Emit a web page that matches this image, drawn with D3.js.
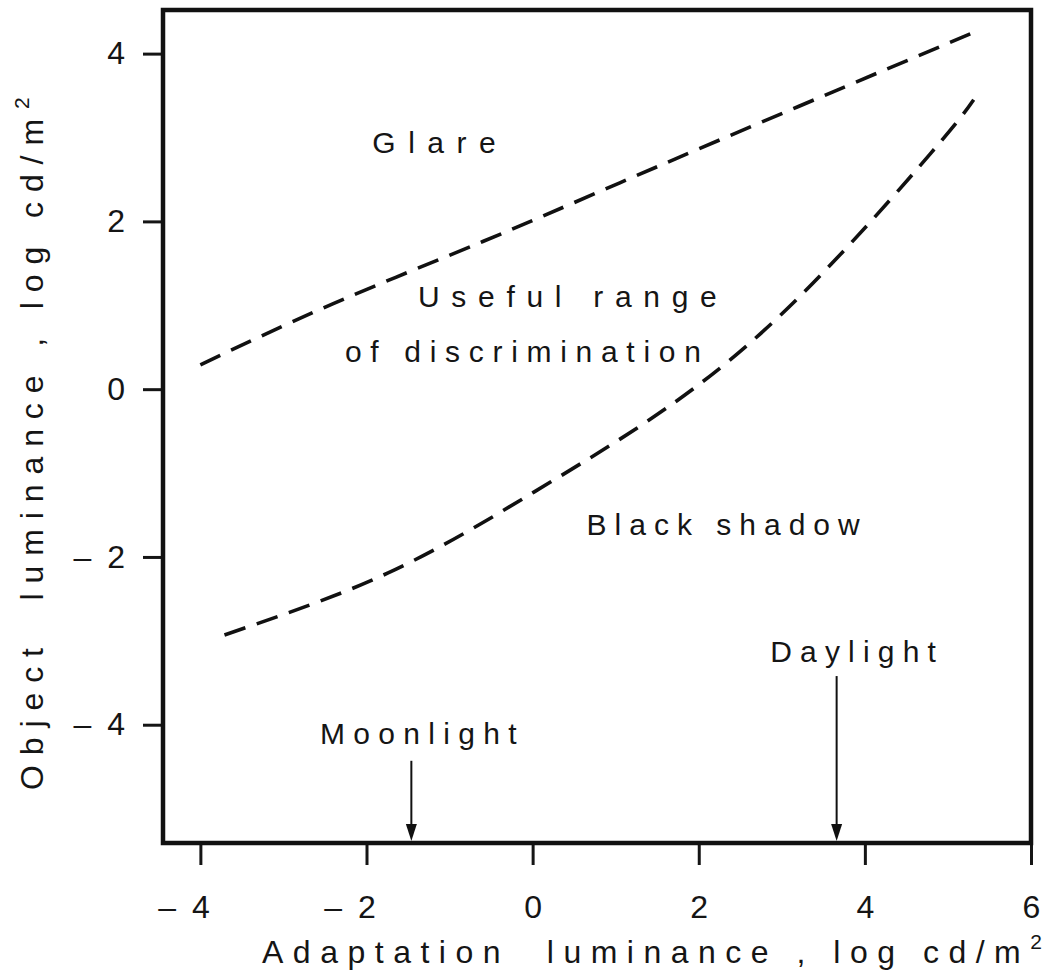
<!DOCTYPE html>
<html>
<head>
<meta charset="utf-8">
<script src="https://cdn.jsdelivr.net/npm/d3@7"></script>
<style>
  html, body { margin: 0; padding: 0; background: #fff; }
  svg text { font-family: "Liberation Sans", Arial, Helvetica, sans-serif; fill: #151515; white-space: pre; }
</style>
</head>
<body>
<svg id="chart" width="1055" height="974"></svg>
<script>
// Axis ticks (log cd/m²)
const xTicks = [-4, -2, 0, 2, 4, 6];
const yTicks = [-4, -2, 0, 2, 4];

// Upper boundary: onset of glare
const glareX = [-4.0, -2.4, -0.6, 1.05, 3.2, 5.33];
const glareY = [0.29, 1.02, 1.76, 2.46, 3.37, 4.26];

// Lower boundary: objects seen as black shadow
const shadowX = [-3.71, -1.74, 0.01, 1.62, 3.21, 4.80, 5.31];
const shadowY = [-2.93, -2.19, -1.23, -0.22, 1.10, 2.82, 3.45];

// Region names: text, left x, baseline y (data units)
const regionText = ["Glare", "Useful range", "of discrimination", "Black shadow"];
const regionX = [-1.93, -1.38, -2.26, 0.65];
const regionY = [2.82, 0.98, 0.32, -1.74];

// Typical adaptation levels, marked with arrows
const markerText = ["Moonlight", "Daylight"];
const markerX = [-1.46, 3.66];
const markerTop = [-4.43, -3.42];
const markerLabelX = [-2.56, 2.86];
const markerLabelY = [-4.23, -3.25];

// Tracking used for each label
const tracking = {
  "Glare": 12.5, "Useful range": 11.7, "of discrimination": 8.7,
  "Black shadow": 8.0, "Moonlight": 8.3, "Daylight": 8.2
};

const svg = d3.select("#chart");
const plotLeft = 163, plotRight = 1031, plotTop = 10, plotBottom = 843;

const x = d3.scaleLinear().domain([-4.45, 6]).range([plotLeft, plotRight]);
const y = d3.scaleLinear().domain([-5.41, 4.52]).range([plotBottom, plotTop]);

const fmt = d => d < 0 ? "\u2013\u2002" + Math.abs(d) : String(d);
const tickFont = 32;

// Y axis ticks
const yAxis = svg.append("g")
  .attr("transform", `translate(${plotLeft},0)`)
  .call(d3.axisLeft(y).tickValues(yTicks).tickSize(20).tickPadding(18).tickFormat(fmt));
yAxis.select(".domain").remove();
yAxis.selectAll(".tick line").attr("stroke", "#151515").attr("stroke-width", 3);
yAxis.selectAll(".tick text").attr("font-size", tickFont).attr("fill", "#151515")
  .style("font-family", "'Liberation Sans', Arial, sans-serif");

// X axis ticks: digit centred on the tick, minus sign hanging to its left
const xAxis = svg.append("g")
  .attr("transform", `translate(0,${plotBottom})`)
  .call(d3.axisBottom(x).tickValues(xTicks).tickSize(22).tickPadding(30).tickFormat(fmt));
xAxis.select(".domain").remove();
xAxis.selectAll(".tick line").attr("stroke", "#151515").attr("stroke-width", 3);
xAxis.selectAll(".tick text").attr("font-size", tickFont).attr("fill", "#151515")
  .style("font-family", "'Liberation Sans', Arial, sans-serif")
  .attr("text-anchor", "end")
  .attr("x", tickFont * 0.278);

// Frame
svg.append("rect")
  .attr("x", plotLeft).attr("y", plotTop)
  .attr("width", plotRight - plotLeft).attr("height", plotBottom - plotTop)
  .attr("fill", "none").attr("stroke", "#111").attr("stroke-width", 4.5);

// Dashed boundaries
const line = d3.line().x(d => x(d[0])).y(d => y(d[1])).curve(d3.curveNatural);
const curves = [d3.zip(glareX, glareY), d3.zip(shadowX, shadowY)];
svg.selectAll("path.boundary").data(curves).join("path")
  .attr("class", "boundary")
  .attr("d", line)
  .attr("fill", "none")
  .attr("stroke", "#111")
  .attr("stroke-width", 3.6)
  .attr("stroke-dasharray", "22,12");

// Region labels
svg.selectAll("text.region").data(regionText).join("text")
  .attr("class", "region")
  .attr("x", (d, i) => x(regionX[i]))
  .attr("y", (d, i) => y(regionY[i]))
  .attr("font-size", 30)
  .attr("letter-spacing", d => tracking[d])
  .text(d => d);

// Arrows for moonlight and daylight
markerText.forEach((t, i) => {
  const mx = x(markerX[i]);
  svg.append("line")
    .attr("x1", mx).attr("x2", mx)
    .attr("y1", y(markerTop[i])).attr("y2", plotBottom - 12)
    .attr("stroke", "#111").attr("stroke-width", 2);
  svg.append("path")
    .attr("d", `M${mx - 5.5},${plotBottom - 19} L${mx + 5.5},${plotBottom - 19} L${mx},${plotBottom - 2} Z`)
    .attr("fill", "#111");
  svg.append("text")
    .attr("x", x(markerLabelX[i]))
    .attr("y", y(markerLabelY[i]))
    .attr("font-size", 30)
    .attr("letter-spacing", tracking[t])
    .text(t);
});

// Axis titles
const xt = svg.append("text")
  .attr("x", 262).attr("y", 963)
  .attr("font-size", 32)
  .attr("letter-spacing", 9.5);
xt.append("tspan").text("Adaptation  luminance , log cd/m");
xt.append("tspan").attr("font-size", 21).attr("dy", -14).attr("letter-spacing", 0).text("2");

const yt = svg.append("text")
  .attr("transform", "translate(43,790) rotate(-90)")
  .attr("font-size", 32)
  .attr("letter-spacing", 9.9);
yt.append("tspan").text("Object  luminance , log cd/m");
yt.append("tspan").attr("font-size", 21).attr("dy", -14).attr("letter-spacing", 0).text("2");
</script>
</body>
</html>
